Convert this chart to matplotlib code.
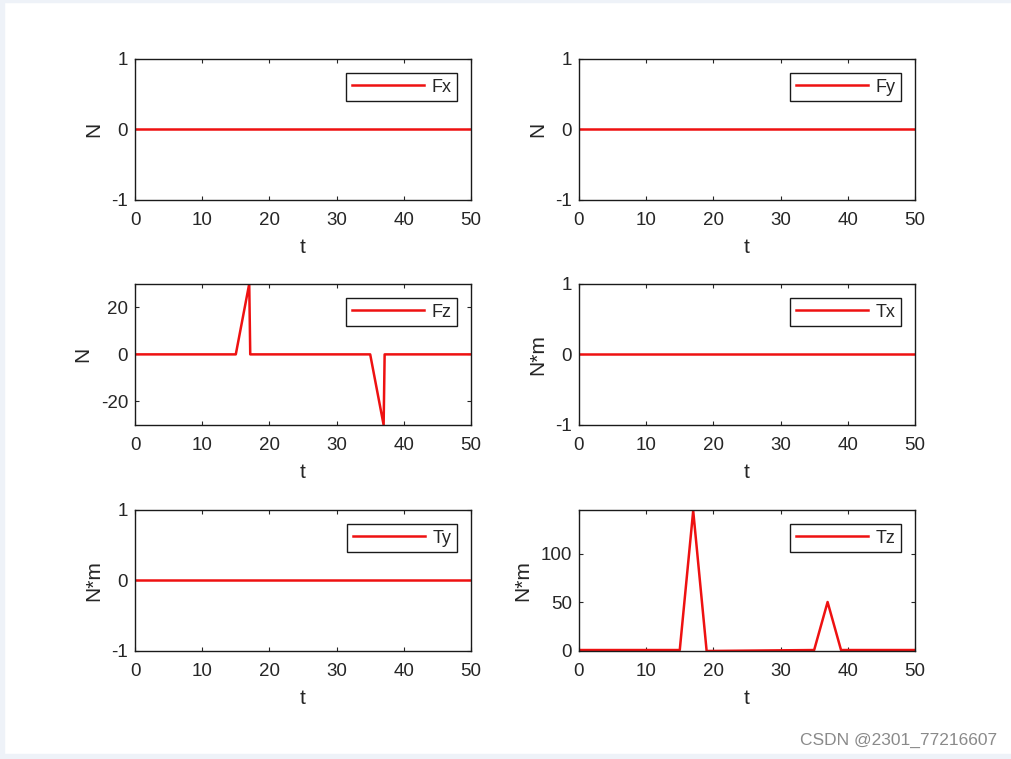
import matplotlib
matplotlib.use("Agg")
import matplotlib.pyplot as plt
from matplotlib.patches import Rectangle

plt.rcParams['font.family'] = ['Liberation Sans', 'DejaVu Sans']
plt.rcParams['axes.unicode_minus'] = False

# force/torque samples (time, value)
t_flat = [0, 50]
v_flat = [0, 0]

t_fz = [0, 15, 17, 17.15, 35, 37, 37.15, 50]
v_fz = [0, 0, 30, 0, 0, -30, 0, 0]

t_tz = [0, 15, 17, 19, 35, 37, 39, 50]
v_tz = [0, 0, 145, -1, 0, 50, 0, 0]

names = ["Fx", "Fy", "Fz", "Tx", "Ty", "Tz"]
ylabels = ["N", "N", "N", "N*m", "N*m", "N*m"]
series = [(t_flat, v_flat), (t_flat, v_flat), (t_fz, v_fz),
          (t_flat, v_flat), (t_flat, v_flat), (t_tz, v_tz)]
ylims = [(-1, 1), (-1, 1), (-30, 30), (-1, 1), (-1, 1), (-1, 146)]
yticks = [[-1, 0, 1], [-1, 0, 1], [-20, 0, 20], [-1, 0, 1], [-1, 0, 1], [0, 50, 100]]
xticks = [0, 10, 20, 30, 40, 50]

fig = plt.figure(figsize=(10.12, 7.59), dpi=100)
fig.patch.set_facecolor('white')

# light frame of the screenshot
edge = '#eef2f8'
fig.patches.append(Rectangle((0, 0), 0.004, 1, transform=fig.transFigure, color=edge, zorder=-1))
fig.patches.append(Rectangle((0, 0), 1, 0.006, transform=fig.transFigure, color=edge, zorder=-1))
fig.patches.append(Rectangle((0, 0.997), 1, 0.003, transform=fig.transFigure, color=edge, zorder=-1))

lefts = [0.1334, 0.5721]
bottoms = [0.7365, 0.4401, 0.1423]
w = 0.332
h = 0.186

text_col = '#262626'
for i, name in enumerate(names):
    r, c = divmod(i, 2)
    ax = fig.add_axes([lefts[c], bottoms[r], w, h])
    tt, vv = series[i]
    ax.plot(tt, vv, color='#ee1111', lw=1.8, label=name)
    ax.set_xlim(0, 50)
    ax.set_ylim(*ylims[i])
    ax.set_xticks(xticks)
    ax.set_yticks(yticks[i])
    ax.tick_params(direction='in', top=True, right=True, length=3, width=0.8,
                   labelsize=13.5, colors=text_col)
    ax.tick_params(axis='x', pad=9)
    ax.tick_params(axis='y', pad=5)
    for s in ax.spines.values():
        s.set_linewidth(1.0)
        s.set_color('#1a1a1a')
    ax.set_xlabel('t', fontsize=15, color=text_col, labelpad=6)
    ax.set_ylabel(ylabels[i], fontsize=15, color=text_col, labelpad=6)
    leg = ax.legend(loc='upper right', fontsize=13, fancybox=False, framealpha=1,
                    edgecolor='#1a1a1a', handlelength=4.0, borderpad=0.3,
                    handletextpad=0.4, borderaxespad=0.8)
    leg.get_frame().set_linewidth(1.0)
    for txt in leg.get_texts():
        txt.set_color(text_col)

fig.text(0.985, 0.025, 'CSDN @2301_77216607', ha='right', va='center',
         fontsize=12.5, color='#8a8a8a')

fig.savefig('out.png', dpi=100)
